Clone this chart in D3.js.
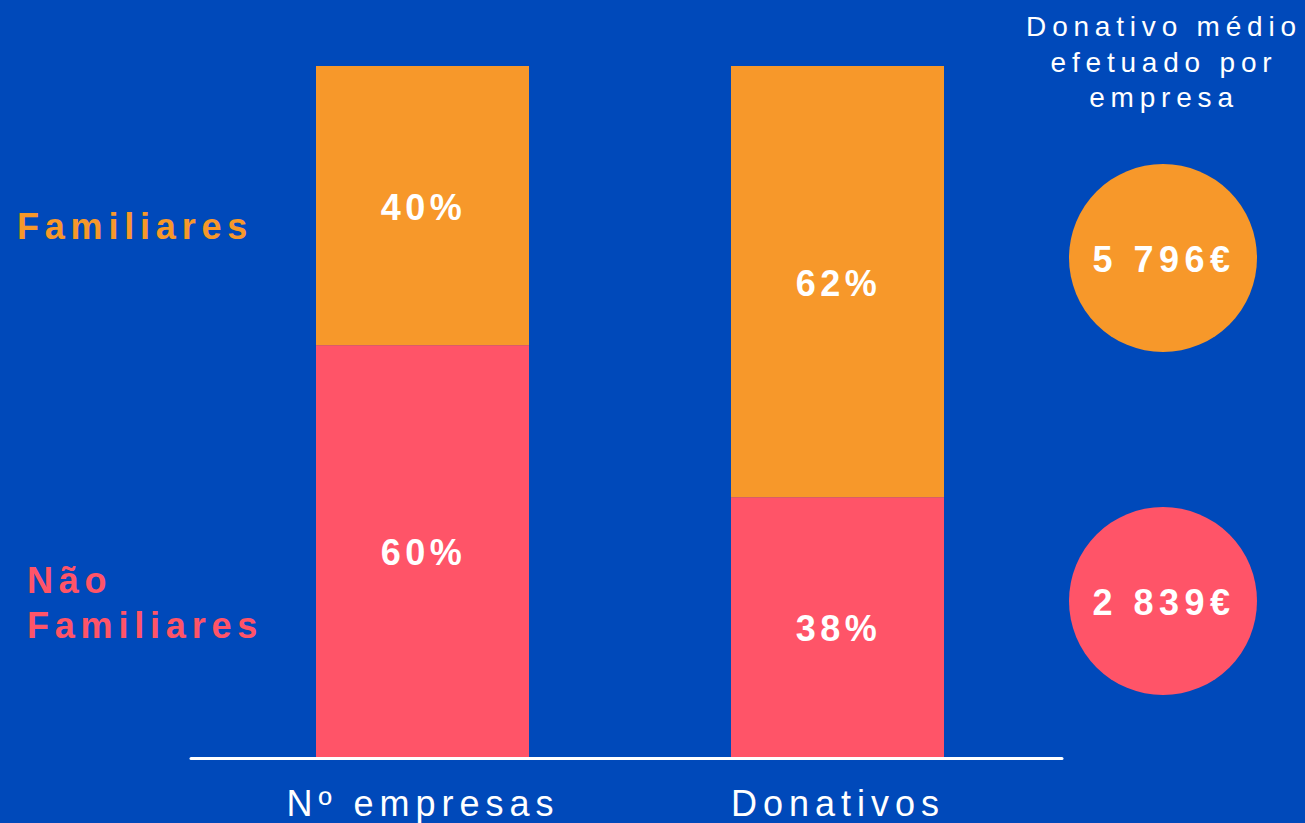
<!DOCTYPE html>
<html>
<head>
<meta charset="utf-8">
<script src="https://cdn.jsdelivr.net/npm/d3@7"></script>
<style>
	html, body { margin: 0; padding: 0; background: #0049BA; }
	svg { display: block; }
	text { font-family: "Liberation Sans", Arial, sans-serif; }
</style>
</head>
<body>
<div id="contentpane"></div>
<script>
//////////
// Data //
//////////

var categories = ["Nº empresas", "Donativos"];
var seriesNames = ["Familiares", "Não Familiares"];
var familiares = [40.4, 62.4];
var naoFamiliares = [59.6, 37.6];
var donativoMedio = [5796, 2839];
var titleLines = ["Donativo médio", "efetuado por", "empresa"];

var colors = { "Familiares": "#F7982A", "Não Familiares": "#FF5468" };

///////////////////
// Initial setup //
///////////////////

var width = 1305;
var height = 823;
var svg = d3.select("#contentpane").append("svg")
	.attr("width", width).attr("height", height);

svg.append("rect").attr("width", width).attr("height", height).attr("fill", "#0049BA");

// Scales
var x = d3.scaleBand().domain(categories).range([316, 944]).paddingInner(0.4867).paddingOuter(0);
var y = d3.scaleLinear().domain([0, 100]).range([757, 66]);

// Stacked data: non-family on the bottom, family on top
var rows = categories.map(function(c, i) {
	return { cat: c, "Não Familiares": naoFamiliares[i], "Familiares": familiares[i] };
});
var stack = d3.stack().keys(["Não Familiares", "Familiares"])(rows);

// Bars
var layers = svg.selectAll("g.layer").data(stack).enter().append("g")
	.attr("class", "layer")
	.attr("fill", function(d) { return colors[d.key]; });

layers.selectAll("rect").data(function(d) { return d; }).enter().append("rect")
	.attr("x", function(d) { return x(d.data.cat); })
	.attr("y", function(d) { return y(d[1]); })
	.attr("width", x.bandwidth())
	.attr("height", function(d) { return y(d[0]) - y(d[1]); });

// Percent labels
layers.selectAll("text").data(function(d) { return d; }).enter().append("text")
	.text(function(d) { return Math.round(d[1] - d[0]) + "%"; })
	.attr("x", function(d) { return x(d.data.cat) + x.bandwidth() / 2 + 1; })
	.attr("y", function(d) { return (y(d[0]) + y(d[1])) / 2 + 14; })
	.attr("text-anchor", "middle")
	.attr("font-size", "36px")
	.attr("font-weight", "bold")
	.attr("letter-spacing", "4.5px")
	.attr("fill", "#fff");

// Baseline
svg.append("line")
	.attr("x1", 191).attr("x2", 1062)
	.attr("y1", y(0) + 1.5).attr("y2", y(0) + 1.5)
	.attr("stroke", "#fff").attr("stroke-width", 3).attr("stroke-linecap", "round");

// Category labels
svg.selectAll("text.cat").data(categories).enter().append("text")
	.attr("class", "cat")
	.text(function(d) { return d; })
	.attr("x", function(d) { return x(d) + x.bandwidth() / 2 + 0.5; })
	.attr("y", 816)
	.attr("text-anchor", "middle")
	.attr("font-size", "36px")
	.attr("letter-spacing", "6px")
	.attr("fill", "#fff");

// Series labels on the left
svg.append("text")
	.text(seriesNames[0])
	.attr("x", 17).attr("y", 239)
	.attr("font-size", "36px").attr("font-weight", "bold")
	.attr("letter-spacing", "5.8px")
	.attr("fill", colors[seriesNames[0]]);

var nf = svg.append("text")
	.attr("x", 27).attr("y", 593)
	.attr("font-size", "36px").attr("font-weight", "bold")
	.attr("letter-spacing", "5.8px")
	.attr("fill", colors[seriesNames[1]]);
seriesNames[1].split(" ").forEach(function(w, i) {
	nf.append("tspan").attr("x", 27).attr("dy", i ? 45 : 0).text(w);
});

// Title top right
svg.selectAll("text.title").data(titleLines).enter().append("text")
	.attr("class", "title")
	.text(function(d) { return d; })
	.attr("x", 1164)
	.attr("y", function(d, i) { return 36 + i * 35.5; })
	.attr("text-anchor", "middle")
	.attr("font-size", "28px")
	.attr("letter-spacing", "5.8px")
	.attr("fill", "#fff");

// Average donation circles
var cy = d3.scalePoint().domain(seriesNames).range([258, 601]);
var fmt = d3.formatLocale({ decimal: ",", thousands: " ", grouping: [3], currency: ["", "€"] }).format(",d");

svg.selectAll("circle").data(seriesNames).enter().append("circle")
	.attr("cx", 1163)
	.attr("cy", function(d) { return cy(d); })
	.attr("r", 94)
	.attr("fill", function(d) { return colors[d]; });

svg.selectAll("text.avg").data(seriesNames).enter().append("text")
	.attr("class", "avg")
	.text(function(d, i) { return fmt(donativoMedio[i]) + "€"; })
	.attr("x", 1164)
	.attr("y", function(d) { return cy(d) + 14; })
	.attr("text-anchor", "middle")
	.attr("font-size", "36px").attr("font-weight", "bold")
	.attr("letter-spacing", "5.5px")
	.attr("fill", "#fff");
</script>
</body>
</html>
